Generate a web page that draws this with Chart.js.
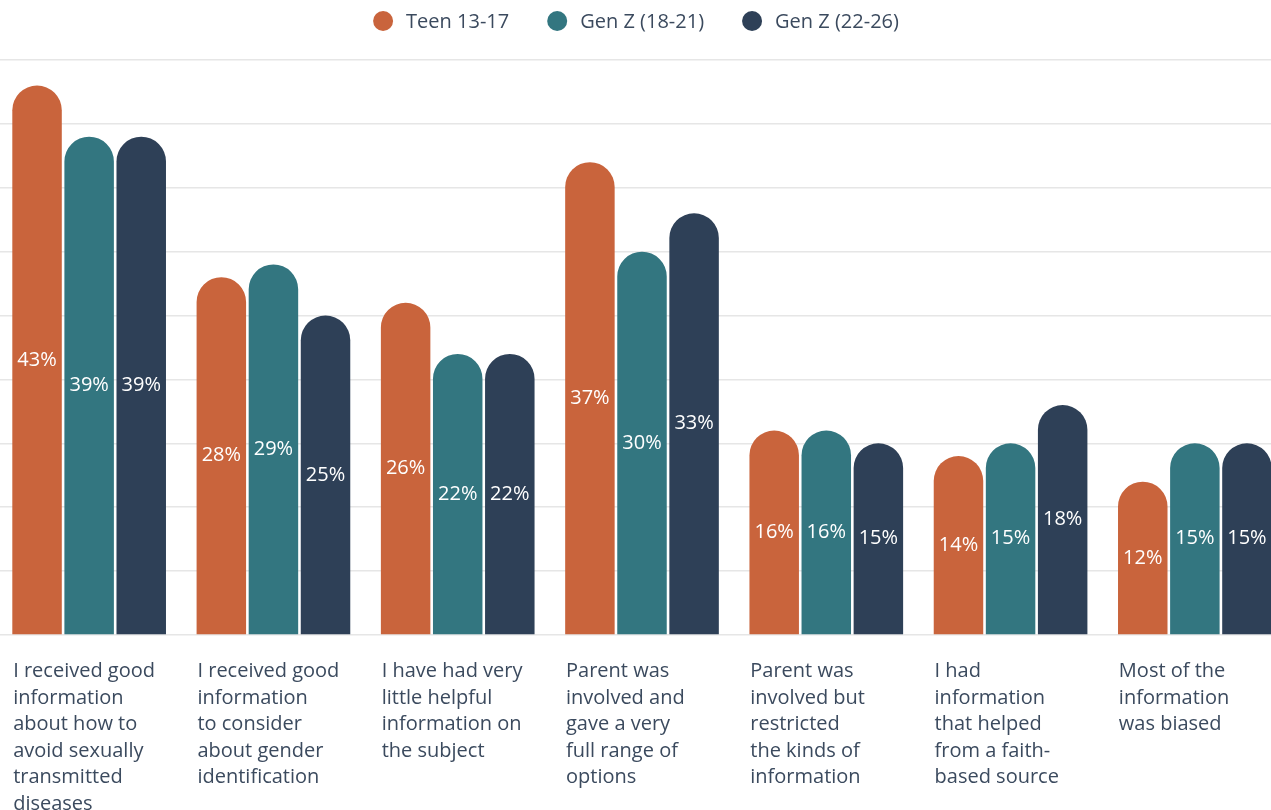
<!DOCTYPE html>
<html>
<head>
<meta charset="utf-8">
<script src="https://cdn.jsdelivr.net/npm/chart.js@4/dist/chart.umd.min.js"></script>
<style>
  html, body { margin: 0; padding: 0; background: #fff; overflow: hidden; }
  #wrap { position: absolute; left: -3px; top: 0; width: 1290px; height: 830px; }
</style>
</head>
<body>
<div id="wrap"><canvas id="surveyChart"></canvas></div>
<script>
/*************************************************
 * DATA
 *************************************************/
const categories = [
  ["I received good", "information", "about how to", "avoid sexually", "transmitted", "diseases"],
  ["I received good", "information", "to consider", "about gender", "identification"],
  ["I have had very", "little helpful", "information on", "the subject"],
  ["Parent was", "involved and", "gave a very", "full range of", "options"],
  ["Parent was", "involved but", "restricted", "the kinds of", "information"],
  ["I had", "information", "that helped", "from a faith-", "based source"],
  ["Most of the", "information", "was biased"]
];

const seriesNames = ["Teen 13-17", "Gen Z (18-21)", "Gen Z (22-26)"];
const teenValues = [43, 28, 26, 37, 16, 14, 12];
const genZ1821Values = [39, 29, 22, 30, 16, 15, 15];
const genZ2226Values = [39, 25, 22, 33, 15, 18, 15];
const seriesColors = ["#c9643c", "#337680", "#2e4057"];

const TEXT_COLOR = "#3b4a5e";
const FONT = "'Open Sans', sans-serif";

/*************************************************
 * VALUE LABELS INSIDE BARS
 *************************************************/
const barLabels = {
  id: "barLabels",
  afterDatasetsDraw(chart) {
    const ctx = chart.ctx;
    ctx.save();
    ctx.fillStyle = "#ffffff";
    ctx.font = "20px " + FONT;
    ctx.textAlign = "center";
    ctx.textBaseline = "middle";
    chart.data.datasets.forEach((ds, i) => {
      chart.getDatasetMeta(i).data.forEach((bar, j) => {
        const mid = (bar.y + bar.base) / 2;
        ctx.fillText(ds.data[j] + "%", bar.x, mid);
      });
    });
    ctx.restore();
  }
};

/*************************************************
 * LEGEND (drawn by hand, centred over the page)
 *************************************************/
const topLegend = {
  id: "topLegend",
  afterDraw(chart) {
    const ctx = chart.ctx;
    const r = 10, textGap = 13, itemGap = 38, cy = 21;
    ctx.save();
    ctx.font = "20px " + FONT;
    ctx.textBaseline = "middle";
    const widths = seriesNames.map(n => ctx.measureText(n).width);
    const total = widths.reduce((a, w) => a + 2 * r + textGap + w, 0) + itemGap * (seriesNames.length - 1);
    // page centre is 636 px, canvas is shifted 3 px left
    let x = 639 - total / 2;
    seriesNames.forEach((name, i) => {
      ctx.fillStyle = seriesColors[i];
      ctx.beginPath();
      ctx.arc(x + r, cy, r, 0, Math.PI * 2);
      ctx.fill();
      ctx.fillStyle = TEXT_COLOR;
      ctx.textAlign = "left";
      ctx.fillText(name, x + 2 * r + textGap, cy + 1);
      x += 2 * r + textGap + widths[i] + itemGap;
    });
    ctx.restore();
  }
};

/*************************************************
 * CHART
 *************************************************/
const values = [teenValues, genZ1821Values, genZ2226Values];

new Chart(document.getElementById("surveyChart"), {
  type: "bar",
  data: {
    labels: categories,
    datasets: values.map((v, i) => ({
      label: seriesNames[i],
      data: v,
      backgroundColor: seriesColors[i],
      borderWidth: 0,
      borderRadius: { topLeft: 25, topRight: 25, bottomLeft: 0, bottomRight: 0 },
      borderSkipped: "bottom",
      barPercentage: 0.95,
      categoryPercentage: 0.848
    }))
  },
  options: {
    responsive: true,
    maintainAspectRatio: false,
    animation: false,
    layout: { padding: { top: 60, left: 0, right: 0, bottom: 0 } },
    plugins: {
      legend: { display: false },
      tooltip: { enabled: false }
    },
    scales: {
      x: {
        grid: { display: false },
        border: { display: false },
        ticks: {
          align: "start",
          labelOffset: -76,
          padding: 15,
          color: TEXT_COLOR,
          autoSkip: false,
          maxRotation: 0,
          font: { family: FONT, size: 20, lineHeight: 1.33 }
        },
        afterFit(scale) {
          scale.paddingLeft = 0;
          scale.paddingRight = 0;
          scale.height = 195;
        }
      },
      y: {
        min: 0,
        max: 45,
        ticks: { display: false, stepSize: 5 },
        grid: { color: "#e6e6e6", lineWidth: 1.5, drawTicks: false },
        border: { display: false },
        afterFit(scale) { scale.width = 0; }
      }
    }
  },
  plugins: [barLabels, topLegend]
});
</script>
</body>
</html>
